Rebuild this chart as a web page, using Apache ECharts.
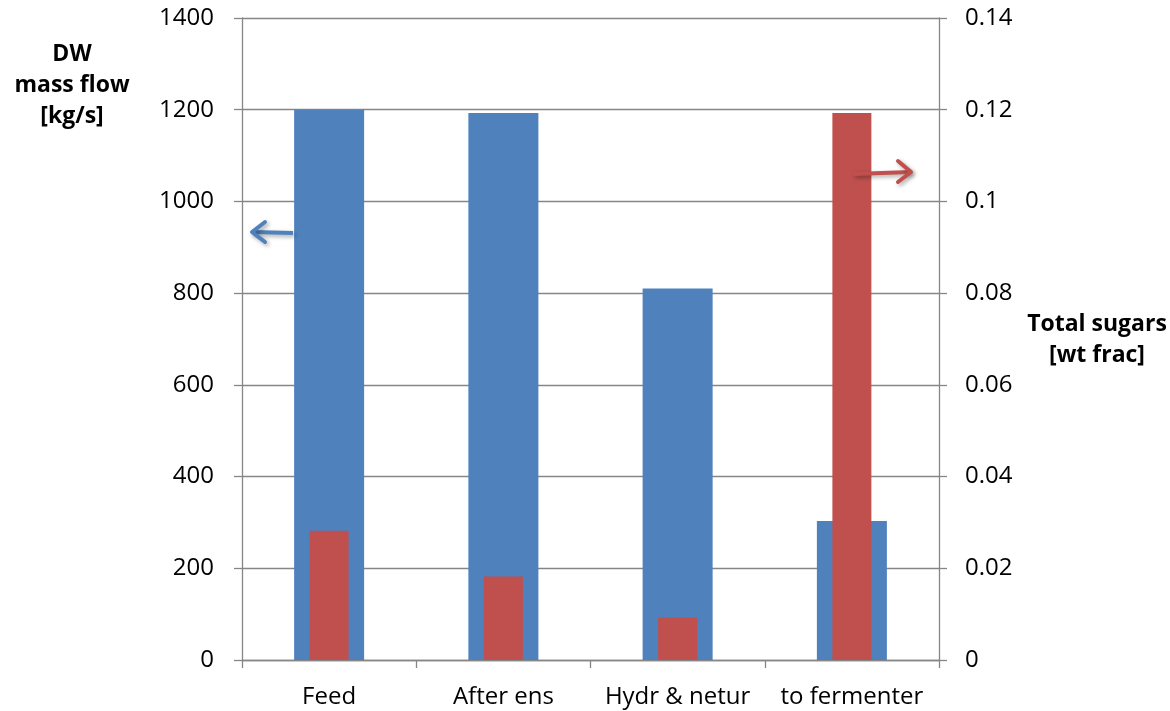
<!DOCTYPE html>
<html>
<head>
<meta charset="utf-8">
<script src="https://cdn.jsdelivr.net/npm/echarts@6/dist/echarts.min.js"></script>
<style>html,body{margin:0;padding:0;background:#fff;}#main{width:1170px;height:711px;}</style>
</head>
<body>
<div id="main"></div>
<script>
const categories = ['Feed', 'After ens', 'Hydr & netur', 'to fermenter'];
const massFlow = [1200, 1193, 810, 303];
const totalSugars = [0.0282, 0.0182, 0.0092, 0.1193];
const leftTicks = [0, 1400, 200];
const rightTicks = [0, 0.14, 0.02];

const FONT = 'Open Sans';
const chart = echarts.init(document.getElementById('main'));
const axisGray = '#868686';
const shadow = { shadowBlur: 4, shadowColor: 'rgba(0,0,0,0.35)', shadowOffsetX: 2, shadowOffsetY: 2 };
chart.setOption({
  animation: false,
  grid: { left: 242, right: 231, top: 18, bottom: 51 },
  xAxis: [
    {
      type: 'category', data: categories, boundaryGap: true,
      axisLine: { lineStyle: { color: axisGray, width: 1.3 } },
      axisTick: { show: true, interval: 0, length: 8, lineStyle: { color: axisGray, width: 1.3 } },
      axisLabel: { interval: 0, hideOverlap: false, color: '#000', fontFamily: FONT, fontSize: 24, margin: 25 }
    },
    { type: 'category', data: categories, show: false }
  ],
  yAxis: [
    {
      type: 'value', min: leftTicks[0], max: leftTicks[1], interval: leftTicks[2],
      axisLine: { show: true, lineStyle: { color: axisGray, width: 1.3 } },
      axisTick: { show: true, length: 8, lineStyle: { color: axisGray, width: 1.3 } },
      splitLine: { lineStyle: { color: axisGray, width: 1.3 } },
      axisLabel: { color: '#000', fontFamily: FONT, fontSize: 24, margin: 28,
        formatter: v => String(v) }
    },
    {
      type: 'value', min: rightTicks[0], max: rightTicks[1], interval: rightTicks[2],
      axisLine: { show: true, lineStyle: { color: axisGray, width: 1.3 } },
      axisTick: { show: true, length: 8, lineStyle: { color: axisGray, width: 1.3 } },
      splitLine: { show: false },
      axisLabel: { color: '#000', fontFamily: FONT, fontSize: 24, margin: 26,
        formatter: v => String(Math.round(v * 100) / 100) }
    }
  ],
  series: [
    { name: 'DW mass flow', type: 'bar', data: massFlow, xAxisIndex: 0, yAxisIndex: 0,
      barWidth: 70, itemStyle: { color: '#4F81BD' } },
    { name: 'Total sugars', type: 'bar', data: totalSugars, xAxisIndex: 1, yAxisIndex: 1,
      barWidth: 39, itemStyle: { color: '#C0504D' } }
  ],
  graphic: [
    { type: 'text', x: 72, y: 39, z: 10, style: { text: 'DW\nmass flow\n[kg/s]', fontFamily: FONT, fontWeight: 'bold', fontSize: 23, lineHeight: 31, fill: '#000', align: 'center', verticalAlign: 'top' } },
    { type: 'text', x: 1097, y: 309, z: 10, style: { text: 'Total sugars\n[wt frac]', fontFamily: FONT, fontWeight: 'bold', fontSize: 23, lineHeight: 31, fill: '#000', align: 'center', verticalAlign: 'top' } },
    { type: 'polyline', z: 10, shape: { points: [[293, 233], [252, 232]] }, style: Object.assign({ stroke: '#4F81BD', lineWidth: 4 }, shadow) },
    { type: 'polyline', z: 10, shape: { points: [[265, 222], [252, 232], [265, 242]] }, style: Object.assign({ stroke: '#4F81BD', lineWidth: 4, fill: null, lineCap: 'round', lineJoin: 'round' }, shadow) },
    { type: 'polyline', z: 10, shape: { points: [[853, 174], [911, 172]] }, style: Object.assign({ stroke: '#C0504D', lineWidth: 4 }, shadow) },
    { type: 'polyline', z: 10, shape: { points: [[898, 161], [911, 172], [898, 182]] }, style: Object.assign({ stroke: '#C0504D', lineWidth: 4, fill: null, lineCap: 'round', lineJoin: 'round' }, shadow) }
  ]
});
</script>
</body>
</html>
